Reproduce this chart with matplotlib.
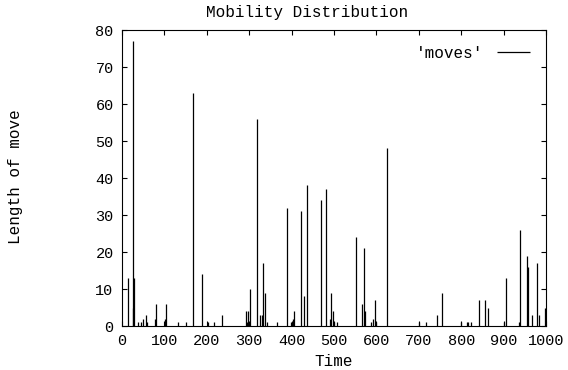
"""Mobility distribution: impulse plot of move lengths over time (gnuplot look)."""

import matplotlib

matplotlib.use("Agg")
import matplotlib.pyplot as plt

plt.rcParams["font.family"] = ["Liberation Mono", "DejaVu Sans Mono"]

# time step of each move and its length
times = [15, 26, 27, 29, 38, 44, 50, 57, 60, 78, 80, 101, 103, 133, 152, 167, 188, 202, 217, 237,
         292, 295, 298, 303, 318, 326, 329, 333, 337, 341, 365, 390, 399, 403, 406, 423, 430, 437,
         469, 482, 491, 494, 497, 500, 508, 552, 566, 571, 573, 588, 592, 596, 599, 625, 700, 717,
         742, 755, 800, 813, 817, 822, 843, 855, 862, 901, 906, 937, 939, 954, 958, 968, 979, 984, 998]
lengths = [13, 5, 77, 13, 1, 1, 2, 3, 1, 2, 6, 2, 6, 1, 1, 63, 14, 1, 1, 3,
           4, 1, 4, 10, 56, 3, 3, 17, 9, 1, 1, 32, 1, 2, 4, 31, 8, 38,
           34, 37, 2, 9, 4, 1, 1, 24, 6, 21, 4, 1, 2, 7, 1, 48, 1, 1,
           3, 9, 1, 1, 1, 1, 7, 7, 5, 1, 13, 1, 26, 19, 16, 3, 17, 3, 5]

xticks = list(range(0, 1001, 100))
yticks = list(range(0, 81, 10))

fig = plt.figure(figsize=(5.68, 3.70), dpi=100)
ax = fig.add_axes([0.2148, 0.1189, 0.7465, 0.80])

ax.vlines(times, 0, lengths, colors="black", linewidth=0.9, label="'moves'")

ax.set_xlim(0, 1000)
ax.set_ylim(0, 80)
ax.set_xticks(xticks)
ax.set_yticks(yticks)
ax.tick_params(direction="in", length=3.5, width=0.8, top=True, right=True, labelsize=11, pad=6)
for s in ax.spines.values():
    s.set_linewidth(0.8)

# gnuplot places title and y label off the axes centre
fig.text(307 / 568, 1 - 12 / 370, "Mobility Distribution", fontsize=11.5, ha="center", va="center")
fig.text(16 / 568, 1 - 177 / 370, "Length of move", fontsize=11.5, ha="center", va="center",
         rotation=90)
ax.set_xlabel("Time", fontsize=11.5, labelpad=4)

ax.legend(loc="upper right", frameon=False, markerfirst=False, handlelength=2.1,
          fontsize=11.5, borderaxespad=0.6)

plt.savefig("out.png", dpi=100)
